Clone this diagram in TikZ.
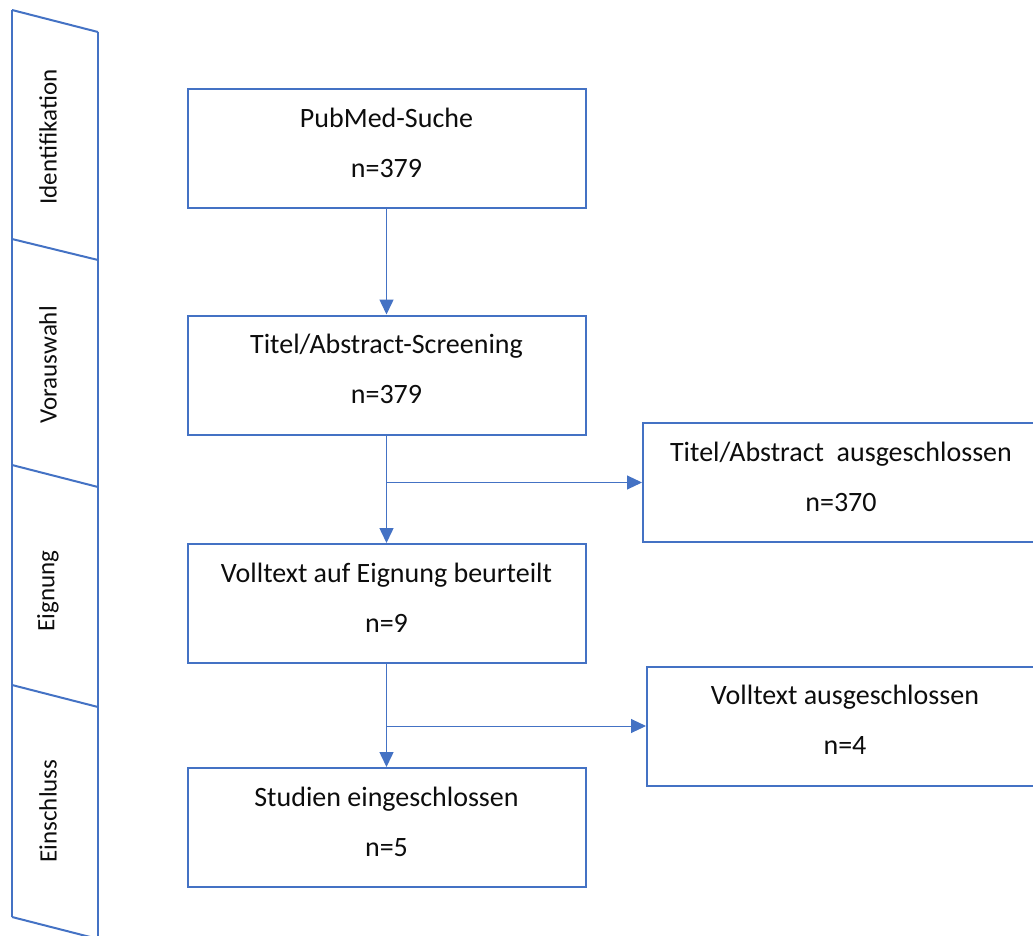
\documentclass[tikz,border=0pt]{standalone}
\usepackage{fontspec}
\setmainfont{Carlito}
\usetikzlibrary{arrows.meta}
\definecolor{oblue}{HTML}{4472C4}
\definecolor{otext}{HTML}{0D0D0D}
\tikzset{
  box/.style={draw=oblue, line width=2pt, minimum width=398pt, minimum height=119pt,
    inner sep=0pt, align=center, text=otext, text depth=12pt, font=\fontsize{28}{50}\selectfont},
  phase/.style={rotate=90, text=otext, font=\fontsize{25}{27}\selectfont, inner sep=0pt},
  strip/.style={draw=oblue, line width=2pt},
  flow/.style={draw=oblue, line width=1.5pt, -{Triangle[length=15pt,width=14pt]}},
  side/.style={draw=oblue, line width=1pt, -{Triangle[length=15pt,width=14pt]}}
}
\begin{document}
\begin{tikzpicture}[x=1pt,y=-1pt]
\useasboundingbox (0,0) rectangle (1033,936);
\clip (0,0) rectangle (1033,936);
% phase strip
\draw[strip] (12,10) -- (12,917);
\draw[strip] (98,32) -- (98,940);
\draw[strip] (12,10) -- (98,32);
\draw[strip] (12,239) -- (98,260);
\draw[strip] (12,465) -- (98,487);
\draw[strip] (12,685) -- (98,707);
\draw[strip] (12,917) -- (98,939);
\node[phase] (p1) at (48,137) {Identifikation};
\node[phase] (p2) at (48,365) {Vorauswahl};
\node[phase] (p3) at (48,591) {Eignung};
\node[phase] (p4) at (48,811) {Einschluss};
% boxes
\node[box] (b1) at (386.5,148.5) {PubMed-Suche\\n=379};
\node[box] (b2) at (386.5,375) {Titel/Abstract-Screening\\n=379};
\node[box] (b3) at (386.5,603.5) {Volltext auf Eignung beurteilt\\n=9};
\node[box] (b4) at (386.5,827.5) {Studien eingeschlossen\\n=5};
\node[box, minimum width=396pt, anchor=west] (r1) at (642,482.5) {Titel/Abstract\ \ ausgeschlossen\\n=370};
\node[box, minimum width=396pt, anchor=west] (r2) at (646,726) {Volltext ausgeschlossen\\n=4};
% connectors
\draw[flow] (b1.south) -- (b2.north);
\draw[flow] (b2.south) -- (b3.north);
\draw[flow] (b3.south) -- (b4.north);
\draw[side] (b2.south |- r1.west) -- (r1.west);
\draw[side] (b3.south |- r2.west) -- (r2.west);
\end{tikzpicture}
\end{document}
